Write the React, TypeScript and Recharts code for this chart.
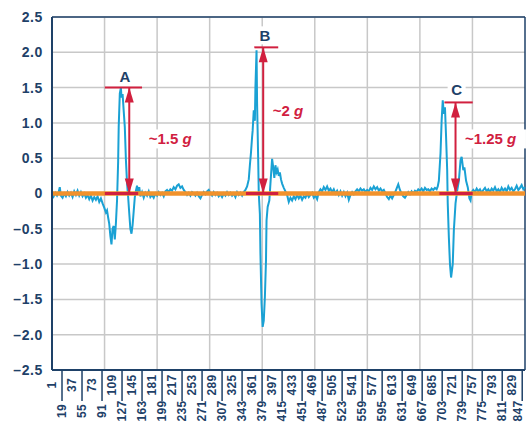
import { LineChart, Line, XAxis, YAxis, CartesianGrid, ReferenceLine, ReferenceDot } from "recharts";

// sample index (x) and acceleration in g (y)
const sampleIdx = [
  1, 4, 7, 10, 13, 15, 17, 20, 23, 26, 29, 32, 35, 38, 41, 44, 47, 50, 53, 56, 59, 62, 65, 68, 71, 74, 77, 80, 83, 86, 89, 92, 95, 98,
  100, 102, 104, 106, 108, 110, 112, 114, 116, 118, 120, 121, 123, 125, 126, 128, 130, 132, 134, 136, 138, 140, 142, 144, 146, 148,
  150, 152, 154, 156, 158, 160, 163, 166, 169, 172, 175, 178, 181, 184, 187, 190, 193, 196, 199, 202, 205, 208, 211, 214, 217, 220,
  223, 226, 229, 232, 235, 238, 241, 244, 247, 250, 253, 256, 259, 262, 265, 268, 271, 274, 277, 280, 283, 286, 289, 292, 295, 298,
  301, 304, 307, 310, 313, 316, 319, 322, 325, 328, 331, 334, 337, 340, 343, 346, 349, 352, 355, 357, 359, 361, 362, 364, 366, 367,
  369, 370, 372, 373, 375, 376, 378, 380, 382, 384, 386, 387, 389, 392, 394, 397, 399, 401, 403, 405, 407, 409, 411, 413, 415, 418,
  421, 424, 427, 430, 433, 436, 439, 442, 445, 448, 451, 454, 457, 460, 463, 466, 469, 472, 475, 478, 481, 484, 487, 490, 493, 496,
  499, 502, 505, 508, 511, 514, 517, 520, 523, 526, 529, 532, 535, 538, 541, 544, 547, 550, 553, 556, 559, 562, 565, 568, 571, 574,
  577, 580, 583, 586, 589, 592, 595, 598, 601, 604, 607, 610, 613, 616, 619, 622, 624, 627, 630, 633, 636, 639, 642, 645, 648, 651,
  654, 657, 660, 663, 666, 669, 672, 675, 678, 681, 684, 687, 690, 693, 695, 697, 700, 702, 704, 706, 708, 710, 712, 713, 715, 717,
  719, 722, 724, 727, 730, 733, 736, 738, 741, 743, 746, 749, 752, 754, 756, 759, 762, 765, 768, 771, 774, 777, 780, 783, 786, 789,
  792, 795, 798, 801, 804, 807, 810, 813, 816, 819, 822, 825, 828, 831, 834, 837, 840, 843, 846, 849, 852,
];
const accelG = [
  0.03, -0.04, 0.01, -0.03, 0.02, 0.09, -0.03, -0.06, 0.0, -0.04, 0.02, -0.03, 0.01, -0.05, 0.03, -0.02, 0.04, -0.03, 0.02, -0.04, 0.0, -0.06, -0.02, -0.08, -0.03, -0.1, -0.05, -0.09, -0.04, -0.12, -0.07, -0.14, -0.2, -0.27,
  -0.24, -0.34, -0.43, -0.6, -0.72, -0.5, -0.46, -0.65, -0.42, -0.1, 0.45, 0.94, 1.42, 1.5, 1.36, 1.41, 1.17, 0.94, 0.47, 0.15, -0.05, -0.28, -0.5, -0.57, -0.45, -0.25,
  -0.05, 0.04, 0.11, -0.02, 0.09, -0.04, 0.02, -0.06, 0.01, -0.03, 0.03, -0.05, -0.02, -0.06, 0.0, -0.03, 0.02, -0.02, 0.01, -0.04, 0.03, 0.05, 0.02, 0.06, 0.04, 0.09,
  0.06, 0.11, 0.13, 0.08, 0.1, 0.05, 0.02, -0.02, 0.01, -0.03, 0.02, 0.0, -0.03, 0.01, -0.04, -0.07, -0.02, 0.02, -0.01, 0.03, 0.05, 0.0, -0.03, 0.02, -0.02, 0.01,
  -0.04, -0.01, -0.05, 0.0, -0.03, 0.02, -0.02, 0.01, -0.03, 0.0, -0.05, 0.02, -0.02, 0.01, -0.03, 0.02, 0.05, 0.1, 0.2, 0.4, 0.58, 0.8, 0.89, 1.18, 1.03, 1.5,
  2.03, 1.27, 0.47, 0.0, -0.29, -0.85, -1.56, -1.89, -1.8, -1.47, -0.95, -0.38, -0.19, -0.1, 0.14, 0.49, 0.37, 0.22, 0.4, 0.3, 0.34, 0.25, 0.3, 0.2, 0.14, 0.08,
  0.03, -0.02, -0.12, -0.06, -0.1, -0.04, -0.08, -0.02, -0.07, -0.03, -0.09, -0.04, -0.06, 0.0, -0.05, -0.02, 0.01, -0.06, -0.03, -0.08, 0.02, 0.06, 0.03, 0.09, 0.05, 0.1,
  0.04, 0.07, 0.02, 0.06, 0.0, 0.04, -0.02, 0.03, -0.03, 0.02, -0.04, 0.01, -0.09, -0.02, 0.02, -0.01, 0.03, 0.06, 0.03, 0.07, 0.04, 0.06, 0.02, 0.05, 0.03, 0.08,
  0.05, 0.1, 0.06, 0.09, 0.04, 0.07, 0.03, 0.05, 0.0, -0.05, -0.08, -0.03, -0.07, -0.02, 0.03, 0.09, 0.13, 0.05, 0.0, -0.04, -0.06, -0.02, 0.02, -0.01, 0.03, 0.0,
  0.04, 0.02, 0.06, 0.04, 0.07, 0.03, 0.08, 0.05, 0.06, 0.03, 0.07, 0.05, 0.08, 0.06, 0.1, 0.18, 0.57, 1.03, 1.32, 1.13, 1.22, 0.8, 0.33, -0.14, -0.62, -1.0,
  -1.19, -1.0, -0.52, -0.14, 0.04, 0.18, 0.47, 0.52, 0.33, 0.37, 0.18, 0.09, -0.07, -0.1, 0.02, 0.05, 0.02, 0.07, 0.03, 0.06, 0.01, 0.05, 0.08, 0.03, 0.06, 0.02,
  0.07, 0.04, 0.09, 0.03, 0.06, 0.02, 0.08, 0.04, 0.07, 0.03, 0.1, 0.05, 0.08, 0.03, 0.06, 0.11, 0.05, 0.08, 0.12, 0.06, 0.09,
];

// the flat zero reference trace
const zeroIdx = [1, 852];
const zeroG = [0, 0];

const xTicks = [
  1, 19, 37, 55, 73, 91, 109, 127, 145, 163, 181, 199, 217, 235, 253, 271, 289, 307, 325, 343, 361, 379, 397, 415,
  433, 451, 469, 487, 505, 523, 541, 559, 577, 595, 613, 631, 649, 667, 685, 703, 721, 739, 757, 775, 793, 811, 829, 847,
];
const yTicks = [-2.5, -2, -1.5, -1, -0.5, 0, 0.5, 1, 1.5, 2, 2.5];

// impact markers: name, arrow sample, peak g, callout text
const eventName = ["A", "B", "C"];
const eventAt = [140, 381, 727];
const eventPeak = [1.5, 2.07, 1.29];
const eventNote = ["~1.5", "~2", "~1.25"];

const NAVY = "#1e4168";
const BLUE = "#1aa1d4";
const ORANGE = "#f1922c";
const RED = "#d1203f";
const GRID = "#c8c8c8";

const accelData = sampleIdx.map((s, i) => ({ s, g: accelG[i] }));
const zeroData = zeroIdx.map((s, i) => ({ s, g: zeroG[i] }));

// where each marker's lines and texts sit, in data units
const layout = [
  { topFrom: 96, topTo: 163, baseFrom: 96, baseTo: 156, labelX: 132, labelY: 1.66, noteX: 175, noteY: 0.78 },
  { topFrom: 365, topTo: 408, baseFrom: 350, baseTo: 408, labelX: 384, labelY: 2.24, noteX: 398, noteY: 1.18 },
  { topFrom: 707, topTo: 758, baseFrom: 698, baseTo: 758, labelX: 729, labelY: 1.47, noteX: 744, noteY: 0.78 },
];

const fmtY = (v: number) => (v === 0 ? "0" : (v < 0 ? "\u2013" : "") + Math.abs(v).toFixed(1));

function XTick({ x, y, payload }: any) {
  const lower = ((payload.value - 1) / 18) % 2 === 1;
  // keep the last label inside the page edge
  const tx = Math.min(x + 4, 522);
  return (
    <g>
      {lower && <line x1={x} x2={x} y1={y} y2={y + 31} stroke={NAVY} strokeWidth={1.5} />}
      <text
        transform={`translate(${tx},${y + (lower ? 41 : 15)}) rotate(-90)`}
        textAnchor="middle"
        fontSize={12}
        fontWeight="bold"
        letterSpacing={0.4}
        fill={NAVY}
        fontFamily="Liberation Sans, Arial, sans-serif"
      >
        {payload.value}
      </text>
    </g>
  );
}

const arrowUp = ({ cx, cy }: any) => <path d={`M${cx},${cy} L${cx - 4.5},${cy + 15} L${cx + 4.5},${cy + 15} Z`} fill={RED} />;
const arrowDown = ({ cx, cy }: any) => <path d={`M${cx},${cy} L${cx - 4.5},${cy - 15} L${cx + 4.5},${cy - 15} Z`} fill={RED} />;

const letter = (t: string) => ({ cx, cy }: any) => (
  <g>
    <rect x={cx - 9} y={cy - 9} width={18} height={18} fill="#fff" />
    <text x={cx} y={cy} dy="0.36em" textAnchor="middle" fontSize={15} fontWeight="bold" fill={NAVY} fontFamily="Liberation Sans, Arial, sans-serif">
      {t}
    </text>
  </g>
);

const note = (t: string) => ({ cx, cy }: any) => (
  <g>
    <rect x={cx - 2} y={cy - 9} width={t.length * 9 + 18} height={19} fill="#fff" />
    <text x={cx} y={cy} dy="0.36em" fontSize={15} fontWeight="bold" fill={RED} fontFamily="Liberation Sans, Arial, sans-serif">
      {t} <tspan fontStyle="italic">g</tspan>
    </text>
  </g>
);

export default function App() {
  return (
    <div style={{ position: "absolute", left: 0, top: 0, width: 527, height: 423, background: "#fff" }}>
      <LineChart width={527} height={423} data={accelData} margin={{ top: 17, right: 2, left: 0, bottom: 0 }}>
        <CartesianGrid
          stroke={GRID}
          strokeWidth={1.5}
          verticalCoordinatesGenerator={(p: any) => {
            const left = p?.offset?.left ?? 52;
            const w = p?.offset?.width ?? 473;
            return Array.from({ length: 8 }, (_, i) => left + ((i + 1) * w) / 9);
          }}
        />
        <XAxis
          dataKey="s"
          type="number"
          domain={[1, 852]}
          ticks={xTicks}
          interval={0}
          tick={<XTick />}
          tickLine={false}
          tickSize={0}
          tickMargin={0}
          height={53}
          axisLine={{ stroke: NAVY, strokeWidth: 2 }}
        />
        <YAxis
          type="number"
          domain={[-2.5, 2.5]}
          ticks={yTicks}
          tickFormatter={fmtY}
          width={52}
          tickLine={false}
          tickSize={0}
          tickMargin={9}
          axisLine={{ stroke: NAVY, strokeWidth: 2 }}
          tick={{ fontSize: 14, fontWeight: "bold", fill: NAVY, fontFamily: "Liberation Sans, Arial, sans-serif", letterSpacing: 0.6 }}
        />
        <ReferenceLine y={2.5} stroke={NAVY} strokeWidth={1.5} />
        <ReferenceLine x={852} stroke={NAVY} strokeWidth={1.5} />
        <Line dataKey="g" stroke={BLUE} strokeWidth={2} dot={false} isAnimationActive={false} />
        <Line data={zeroData} dataKey="g" stroke={ORANGE} strokeWidth={4.5} dot={false} isAnimationActive={false} />
        {eventName.map((n, i) => {
          const l = layout[i];
          return [
            <ReferenceLine key={n + "t"} ifOverflow="visible" stroke={RED} strokeWidth={2} segment={[{ x: l.topFrom, y: eventPeak[i] }, { x: l.topTo, y: eventPeak[i] }]} />,
            <ReferenceLine key={n + "b"} ifOverflow="visible" stroke={RED} strokeWidth={3} segment={[{ x: l.baseFrom, y: 0 }, { x: l.baseTo, y: 0 }]} />,
            <ReferenceLine key={n + "s"} ifOverflow="visible" stroke={RED} strokeWidth={2} segment={[{ x: eventAt[i], y: eventPeak[i] }, { x: eventAt[i], y: 0 }]} />,
            <ReferenceDot key={n + "u"} ifOverflow="visible" x={eventAt[i]} y={eventPeak[i]} shape={arrowUp} />,
            <ReferenceDot key={n + "d"} ifOverflow="visible" x={eventAt[i]} y={0} shape={arrowDown} />,
            <ReferenceDot key={n + "l"} ifOverflow="visible" x={l.labelX} y={l.labelY} shape={letter(n)} />,
            <ReferenceDot key={n + "n"} ifOverflow="visible" x={l.noteX} y={l.noteY} shape={note(eventNote[i])} />,
          ];
        })}
      </LineChart>
    </div>
  );
}
